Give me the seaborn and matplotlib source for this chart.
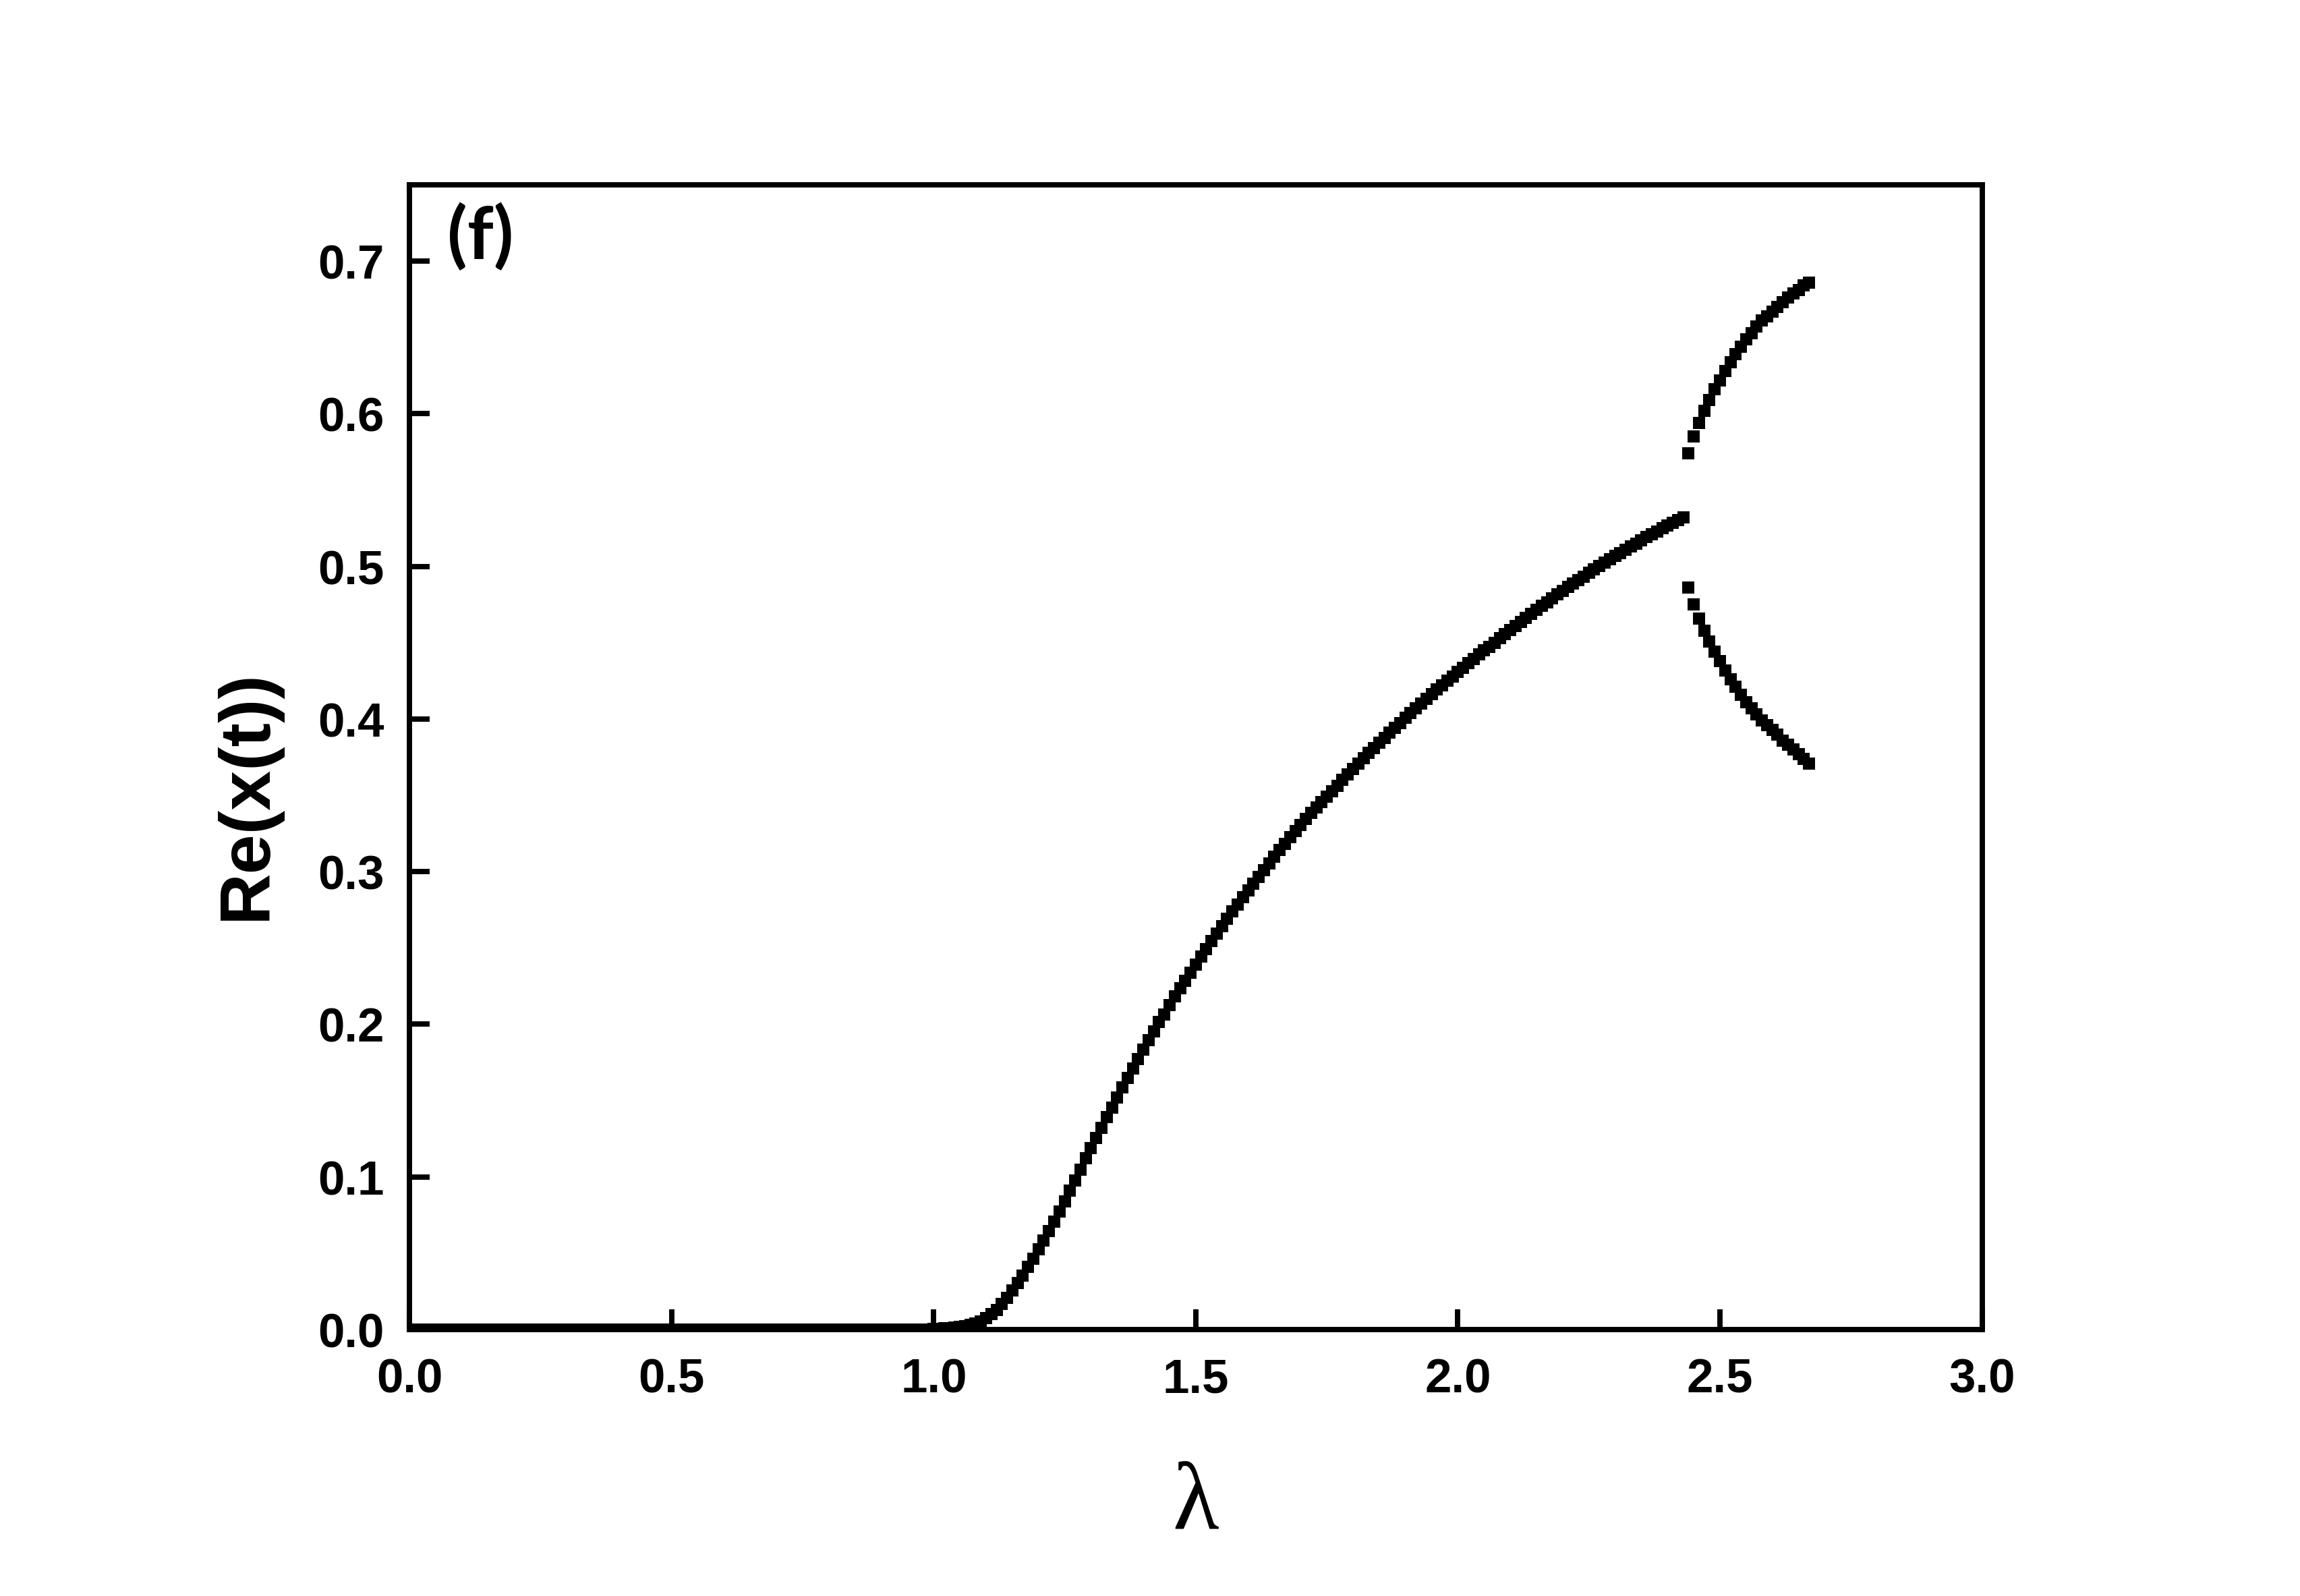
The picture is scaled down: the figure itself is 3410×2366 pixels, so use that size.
import numpy as np
import pandas as pd
import seaborn as sns
import matplotlib.pyplot as plt

# Re(x(t)) read off the plot, lambda sampled every 0.01
# single branch, lambda = 0.00 ... 2.43
re_main = [
    0.0, 0.0, 0.0, 0.0, 0.0, 0.0, 0.0, 0.0, 0.0, 0.0,
    0.0, 0.0, 0.0, 0.0, 0.0, 0.0, 0.0, 0.0, 0.0, 0.0,
    0.0, 0.0, 0.0, 0.0, 0.0, 0.0, 0.0, 0.0, 0.0, 0.0,
    0.0, 0.0, 0.0, 0.0, 0.0, 0.0, 0.0, 0.0, 0.0, 0.0,
    0.0, 0.0, 0.0, 0.0, 0.0, 0.0, 0.0, 0.0, 0.0, 0.0,
    0.0, 0.0, 0.0, 0.0, 0.0, 0.0, 0.0, 0.0, 0.0, 0.0,
    0.0, 0.0, 0.0, 0.0, 0.0, 0.0, 0.0, 0.0, 0.0, 0.0,
    0.0, 0.0, 0.0, 0.0, 0.0, 0.0, 0.0, 0.0, 0.0, 0.0,
    0.0, 0.0, 0.0, 0.0, 0.0, 0.0, 0.0, 0.0, 0.0, 0.0,
    0.0, 0.0, 0.0, 0.0, 0.0, 0.0, 0.0, 0.0, 0.0001, 0.0002,
    0.0003, 0.0005, 0.0007, 0.0009, 0.0012, 0.0016, 0.0022, 0.0030, 0.0040, 0.0055,
    0.0074, 0.0103, 0.0130, 0.0169, 0.0209, 0.0255, 0.0304, 0.0355, 0.0411, 0.0465,
    0.0525, 0.0582, 0.0645, 0.0708, 0.0775, 0.0841, 0.0912, 0.0978, 0.1047, 0.1121,
    0.1188, 0.1254, 0.1320, 0.1391, 0.1455, 0.1520, 0.1585, 0.1650, 0.1710, 0.1770,
    0.1835, 0.1895, 0.1955, 0.2014, 0.2066, 0.2125, 0.2184, 0.2235, 0.2287, 0.2338,
    0.2393, 0.2442, 0.2494, 0.2545, 0.2594, 0.2641, 0.2693, 0.2739, 0.2786, 0.2833,
    0.2877, 0.2921, 0.2965, 0.3009, 0.3053, 0.3098, 0.3141, 0.3184, 0.3226, 0.3267,
    0.3307, 0.3346, 0.3384, 0.3420, 0.3455, 0.3490, 0.3527, 0.3564, 0.3600, 0.3639,
    0.3674, 0.3709, 0.3745, 0.3777, 0.3811, 0.3845, 0.3877, 0.3913, 0.3944, 0.3975,
    0.4008, 0.4039, 0.4070, 0.4103, 0.4132, 0.4165, 0.4194, 0.4222, 0.4252, 0.4279,
    0.4309, 0.4337, 0.4365, 0.4393, 0.4422, 0.4449, 0.4474, 0.4500, 0.4528, 0.4556,
    0.4583, 0.4610, 0.4637, 0.4663, 0.4689, 0.4715, 0.4741, 0.4766, 0.4791, 0.4816,
    0.4840, 0.4864, 0.4888, 0.4911, 0.4934, 0.4957, 0.4980, 0.5002, 0.5024, 0.5046,
    0.5068, 0.5089, 0.5110, 0.5131, 0.5151, 0.5171, 0.5191, 0.5211, 0.5230, 0.5249,
    0.5267, 0.5285, 0.5303, 0.5320,
]

# after the split, lambda = 2.44 ... 2.67
re_upper = [
    0.574, 0.585, 0.594, 0.602, 0.609, 0.616, 0.622, 0.628, 0.634, 0.639,
    0.644, 0.649, 0.653, 0.657, 0.661, 0.664, 0.667, 0.670, 0.673, 0.676,
    0.679, 0.681, 0.684, 0.686,
]
re_lower = [
    0.486, 0.475, 0.466, 0.458, 0.451, 0.444, 0.438, 0.432, 0.426, 0.421,
    0.416, 0.411, 0.407, 0.403, 0.399, 0.396, 0.393, 0.390, 0.386, 0.383,
    0.380, 0.377, 0.374, 0.371,
]

lam_step = 0.01
lam_split_start = 2.44
xticks = [0.0, 0.5, 1.0, 1.5, 2.0, 2.5, 3.0]
yticks = [0.0, 0.1, 0.2, 0.3, 0.4, 0.5, 0.6, 0.7]

lam_main = np.round(np.arange(len(re_main)) * lam_step, 2)
lam_split = np.round(lam_split_start + np.arange(len(re_upper)) * lam_step, 2)

df = pd.concat([
    pd.DataFrame({'lam': lam_main, 're': re_main, 'branch': 'main'}),
    pd.DataFrame({'lam': lam_split, 're': re_upper, 'branch': 'upper'}),
    pd.DataFrame({'lam': lam_split, 're': re_lower, 'branch': 'lower'}),
], ignore_index=True)

sns.set_theme(style="ticks")
plt.rcParams['font.family'] = ['Liberation Sans', 'DejaVu Sans']
plt.rcParams['text.color'] = 'black'
plt.rcParams['axes.labelcolor'] = 'black'
plt.rcParams['xtick.color'] = 'black'
plt.rcParams['ytick.color'] = 'black'

fig = plt.figure(figsize=(11.37, 7.8899), dpi=300)
ax = fig.add_axes([0.178, 0.1669, 0.6835, 0.7169])

sns.scatterplot(data=df, x='lam', y='re', marker='s', s=17, color='black',
                linewidth=0, legend=False, ax=ax)

ax.set_xlim(0, 3.0)
ax.set_ylim(0, 0.75)
ax.set_xticks(xticks)
ax.set_yticks(yticks)
ax.set_xticklabels([f'{t:.1f}' for t in xticks], fontsize=17, fontweight='bold', color='black')
ax.set_yticklabels([f'{t:.1f}' for t in yticks], fontsize=17, fontweight='bold', color='black')
ax.tick_params(direction='in', length=7.2, width=1.9, color='black',
               labelcolor='black', top=False, right=False)
ax.tick_params(axis='x', pad=10)
ax.tick_params(axis='y', pad=9)
for sp in ax.spines.values():
    sp.set_visible(True)
    sp.set_linewidth(1.9)
    sp.set_color('black')

ax.set_xlabel('λ', fontsize=34, color='black',
              family=['Liberation Serif', 'DejaVu Serif'])
ax.xaxis.set_label_coords(0.5, -0.115)
ax.set_ylabel('Re(x(t))', fontsize=25.5, fontweight='bold', color='black')
ax.yaxis.set_label_coords(-0.082, 0.468)

ax.text(0.024, 0.985, '(f)', transform=ax.transAxes, fontsize=26, color='black',
        fontweight='bold', family=['Lato', 'DejaVu Sans'], va='top', ha='left')

fig.savefig('out.png', dpi=300, facecolor='white')
